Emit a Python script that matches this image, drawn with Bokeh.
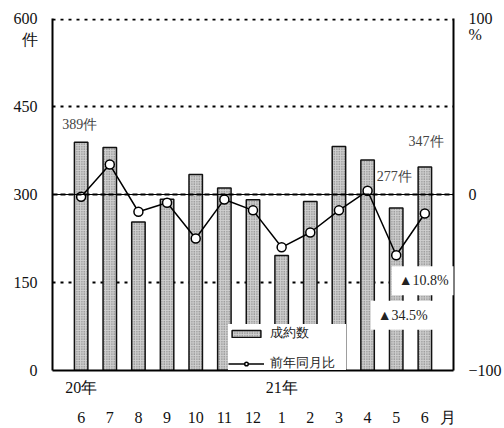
from bokeh.plotting import figure
from bokeh.models import (Range1d, LinearAxis, FixedTicker, Label, Span, Legend, LegendItem)
from bokeh.embed import file_html
from bokeh.resources import INLINE

months = ["6", "7", "8", "9", "10", "11", "12", "1", "2", "3", "4", "5", "6"]
years = {1: "20年", 8: "21年"}
contracts = [389, 380, 253, 292, 334, 311, 291, 196, 288, 382, 359, 277, 347]
yoy_pct = [-1.3, 17.0, -9.8, -4.7, -25.0, -2.8, -9.0, -30.0, -21.6, -9.0, 2.1, -34.5, -10.8]
left_ticks = [0, 150, 300, 450, 600]
right_ticks = [-100, 0, 100]

FONT = "Liberation Serif"
xs = list(range(1, len(months) + 1))

p = figure(width=504, height=428, output_backend="svg", toolbar_location=None,
           x_range=Range1d(0, 14), y_range=Range1d(0, 600),
           min_border_left=52, min_border_right=49, min_border_top=18, min_border_bottom=58)
p.extra_y_ranges = {"pct": Range1d(-100, 100)}
p.outline_line_color = None
p.background_fill_color = "white"

p.xgrid.visible = False
p.ygrid.ticker = FixedTicker(ticks=[150, 450, 598.4])
p.ygrid.grid_line_color = "black"
p.ygrid.grid_line_width = 2
p.ygrid.grid_line_dash = "3 5"

bars = p.vbar(x=xs, top=contracts, width=0.47, fill_color="#cfcfcf",
              hatch_pattern="dot", hatch_color="#666666", hatch_scale=2.5, hatch_weight=1,
              line_color="#111111", line_width=1.5)

p.add_layout(Span(location=300, dimension="width", line_color="black", line_width=1))
p.add_layout(Span(location=300, dimension="width", line_color="black", line_width=2, line_dash="5 3"))

ln = p.line(x=xs, y=yoy_pct, y_range_name="pct", line_color="black", line_width=1.5)
sc = p.scatter(x=xs, y=yoy_pct, y_range_name="pct", size=9, marker="circle",
               fill_color="white", line_color="black", line_width=1.5)

def style_axis(ax, line=True):
    ax.major_tick_line_color = None
    ax.minor_tick_line_color = None
    ax.major_tick_out = 0
    ax.major_tick_in = 0
    ax.axis_line_color = "black" if line else None
    ax.axis_line_width = 2
    ax.major_label_text_font = FONT
    ax.major_label_text_font_size = "16px"
    ax.major_label_text_color = "#111111"

lax = p.yaxis[0]
style_axis(lax)
lax.ticker = FixedTicker(ticks=left_ticks + [564])
lax.major_label_overrides = {564: "件"}
lax.major_label_standoff = 15

xax = p.xaxis[0]
style_axis(xax)
xax.ticker = FixedTicker(ticks=list(years.keys()))
xax.major_label_overrides = years
xax.major_label_standoff = 8

max_ = LinearAxis(ticker=FixedTicker(ticks=xs + [13.82]))
style_axis(max_, line=False)
ov = {x: m for x, m in zip(xs, months)}
ov[13.82] = "月"
max_.major_label_overrides = ov
max_.major_label_standoff = 10
p.add_layout(max_, "below")

rax = LinearAxis(y_range_name="pct", ticker=FixedTicker(ticks=right_ticks + [91]))
style_axis(rax)
rax.major_label_standoff = 15
rax.major_label_overrides = {-100: "\u2212100", 91: "%"}
p.add_layout(rax, "right")

def lab(x, y, text, color="#444444", bg=None, pad=0):
    kw = {}
    if bg:
        kw = dict(background_fill_color=bg, background_fill_alpha=1.0, padding=pad)
    p.add_layout(Label(x=x, y=y, text=text, text_font=FONT, text_font_size="14px",
                       text_color=color, text_align="left", text_baseline="middle", **kw))

lab(0.34, 419, "389件")
lab(12.43, 390, "347件")
lab(11.32, 331, "277件")
lab(11.84, 153, "▲10.8%", color="#222222", bg="white", pad=7)
lab(11.11, 94, "▲34.5%", color="#222222", bg="white", pad=7)

legend = Legend(items=[LegendItem(label="成約数", renderers=[bars]),
                       LegendItem(label="前年同月比", renderers=[ln, sc])],
                location=(176, -2), orientation="vertical")
legend.glyph_width = 36
legend.glyph_height = 9
legend.label_height = 12
legend.label_width = 76
legend.spacing = 12
legend.padding = 8
legend.margin = 0
legend.label_standoff = 6
legend.border_line_color = None
legend.background_fill_color = "white"
legend.background_fill_alpha = 1.0
legend.label_text_font = FONT
legend.label_text_font_size = "13px"
legend.label_text_color = "#222222"
p.add_layout(legend, "center")

open("out.html", "w").write(file_html(p, INLINE))
